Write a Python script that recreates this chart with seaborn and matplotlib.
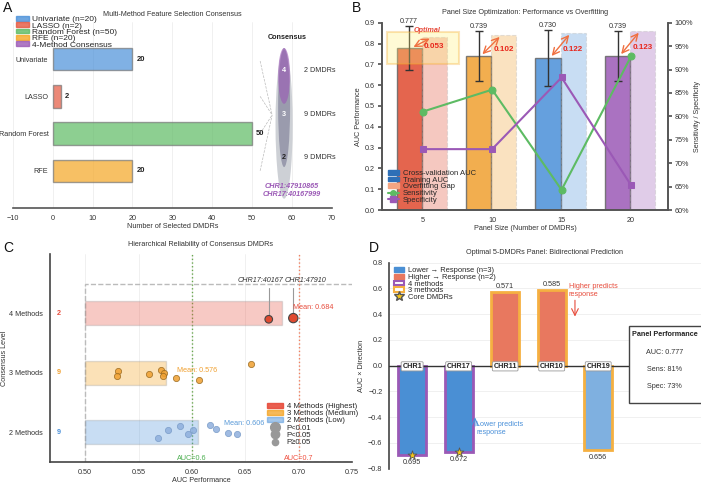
import numpy as np
import pandas as pd
import matplotlib
matplotlib.use("Agg")
import matplotlib.pyplot as plt
import seaborn as sns
from matplotlib.patches import Ellipse, Rectangle, Patch
from matplotlib.lines import Line2D
from matplotlib.ticker import PercentFormatter

sns.set_theme(style="whitegrid")
plt.rcParams['font.family'] = ['Liberation Sans', 'DejaVu Sans']
plt.rcParams['axes.unicode_minus'] = True
FS = 5.2

# ---------------- data ----------------
methods = ["Univariate", "LASSO", "Random Forest", "RFE"]
method_counts = [20, 2, 50, 20]
consensus_labels = ["4", "3", "2"]
consensus_counts = [2, 9, 9]
core_ids = ["CHR1:47910865", "CHR17:40167999"]

panel_sizes = [5, 10, 15, 20]
cv_auc = [0.777, 0.739, 0.730, 0.739]
cv_err = [0.106, 0.119, 0.133, 0.120]
train_auc = [0.830, 0.841, 0.852, 0.862]
gaps = [0.053, 0.102, 0.122, 0.123]
sensitivity = [81.0, 85.7, 64.3, 92.8]
specificity = [73.0, 73.0, 88.3, 65.3]

level_names = ["2 Methods", "3 Methods", "4 Methods"]
level_means = [0.606, 0.576, 0.684]
level_counts = [9, 9, 2]
auc_2m = [0.568, 0.578, 0.589, 0.601, 0.596, 0.617, 0.623, 0.634, 0.642]
jit_2m = [-0.10, 0.04, 0.10, 0.04, -0.04, 0.12, 0.05, -0.01, -0.03]
auc_3m = [0.531, 0.530, 0.560, 0.571, 0.574, 0.573, 0.585, 0.607, 0.655]
jit_3m = [0.03, -0.06, -0.02, 0.04, 0.00, -0.06, -0.09, -0.12, 0.14]
auc_4m = [0.672, 0.695]
jit_4m = [-0.10, -0.08]
names_4m = ["CHR17:40167", "CHR1:47910"]

dmdr_labels = ["CHR1", "CHR17", "CHR11", "CHR10", "CHR19"]
dmdr_auc = [0.695, 0.672, 0.571, 0.585, 0.656]
dmdr_dir = [-1, -1, 1, 1, -1]
dmdr_methods = [4, 4, 3, 3, 3]
panel_auc, panel_sens, panel_spec = 0.777, 81, 73

BLUE = "#4A90D9"; RED = "#E5573F"; GREEN = "#5DBB63"; ORANGE = "#F5A623"; PURPLE = "#9B59B6"

fig = plt.figure(figsize=(7.01, 4.83), dpi=100)
axA = fig.add_axes([0.0181, 0.5694, 0.4555, 0.3851])
axB = fig.add_axes([0.5449, 0.5652, 0.408, 0.3878])
axC = fig.add_axes([0.0713, 0.0441, 0.4308, 0.43])
axD = fig.add_axes([0.5554, 0.0296, 0.444, 0.4265])

def style_spines(ax, show, color="#444444", lw=1.0):
    for s in ["left", "right", "top", "bottom"]:
        ax.spines[s].set_visible(s in show)
        ax.spines[s].set_color(color)
        ax.spines[s].set_linewidth(lw)

# ---------------- Panel A ----------------
dfA = pd.DataFrame({"method": methods, "count": method_counts})
sns.barplot(data=dfA, x="count", y="method", hue="method", palette=[BLUE, RED, GREEN, ORANGE],
            width=0.6, saturation=1, alpha=0.7, edgecolor="#777777", linewidth=1, legend=False, ax=axA)
axA.set_xlim(-10, 70)
axA.set_ylim(4.0, -1.0)
for i, v in enumerate(method_counts):
    axA.text(v + 1, i, str(v), va="center", ha="left", fontsize=FS + 0.3, fontweight="bold", color="#222")
axA.set_xticks(range(-10, 71, 10))
axA.grid(axis="x", color="#eeeeee", lw=0.6)
axA.grid(axis="y", visible=False)
style_spines(axA, ["bottom"], "#555555", 1.2)
axA.spines["left"].set_position(("data", 0))
axA.tick_params(axis="both", labelsize=FS, colors="#333", length=0, pad=3)
axA.tick_params(axis="x", length=3, color="#555", pad=2)
axA.set_xlabel("Number of Selected DMDRs", fontsize=FS, color="#333", labelpad=1)
axA.set_ylabel("")
axA.set_title("Multi-Method Feature Selection Consensus", fontsize=FS, color="#333", pad=4)
# consensus ellipses
axA.add_patch(Ellipse((58, 1.75), 4.3, 4.0, color="#c8cbd1", alpha=0.9, lw=0, zorder=1))
axA.add_patch(Ellipse((58, 1.3), 3.0, 3.2, color="#5c5c7e", alpha=0.45, lw=0, zorder=2))
axA.add_patch(Ellipse((58, 0.45), 3.0, 1.5, color=PURPLE, alpha=0.6, lw=0, zorder=3))
cy = [0.3, 1.48, 2.65]
for lab, y, c, n in zip(consensus_labels, cy, ["white", "white", "#222"], consensus_counts):
    axA.text(58, y, lab, ha="center", va="center", fontsize=FS, fontweight="bold", color=c, zorder=5)
    axA.text(63, y, f"{n} DMDRs", ha="left", va="center", fontsize=FS, color="#333", zorder=5)
axA.text(58.8, -0.57, "Consensus", ha="center", va="center", fontsize=FS, fontweight="bold", color="#222")
for i in range(4):
    axA.plot([52, 55], [i + 0.05 if i == 0 else i, 1.5], ls="--", color="#bbbbbb", lw=0.5, zorder=0)
axA.text(60, 3.41, core_ids[0], ha="center", va="center", fontsize=FS, fontstyle="italic",
         fontweight="bold", color=PURPLE)
axA.text(60, 3.65, core_ids[1], ha="center", va="center", fontsize=FS, fontstyle="italic",
         fontweight="bold", color=PURPLE)
hA = [Patch(color=c, alpha=0.8, label=f"{m} (n={n})") for m, n, c in
      zip(methods, method_counts, [BLUE, RED, GREEN, ORANGE])]
hA.append(Patch(color=PURPLE, alpha=0.8, label="4-Method Consensus"))
axA.legend(handles=hA, loc="upper left", bbox_to_anchor=(0.0, 1.05), frameon=False, fontsize=6.0,
           borderaxespad=0, labelspacing=-0.12, handlelength=1.6, handleheight=0.5, handletextpad=0.35)

# ---------------- Panel B ----------------
xs = np.array(panel_sizes, float)
w = 1.82
colB = ["#E04A2F", "#F0A030", BLUE, PURPLE]
axB.bar(xs - 0.97, cv_auc, width=w, color=colB, alpha=0.85, edgecolor="#666666", lw=1,
        yerr=cv_err, capsize=3, error_kw=dict(ecolor="#333", elinewidth=1, capthick=1), zorder=2)
axB.bar(xs + 0.84, train_auc, width=w, color=colB, alpha=0.3, edgecolor="#aaaaaa", lw=0.8,
        ls="--", zorder=2)
axB.add_patch(Rectangle((2.4, 0.70), 5.2, 0.157, fc="#fff176", alpha=0.3, ec="#f5a623",
                        lw=1.5, zorder=3))
axB.text(5.3, 0.864, "Optimal", ha="center", va="center", fontsize=FS, fontstyle="italic",
         fontweight="bold", color="#e74c3c", zorder=4)
for x, c, t, g, e in zip(xs, cv_auc, train_auc, gaps, cv_err):
    axB.annotate("", xy=(x + 0.68, t), xytext=(x - 0.84, c),
                 arrowprops=dict(arrowstyle="<->", color="#f07040", lw=1.0), zorder=4)
    axB.text(x + 0.1, (c + t) / 2 - 0.02, f"{g:.3f}", ha="left", va="center", fontsize=FS + 0.6,
             fontweight="bold", color="#e8261c", zorder=5)
    axB.text(x - 0.97, c + e + 0.008, f"{c:.3f}", ha="center", va="bottom", fontsize=FS,
             color="#333", zorder=5)
axB.set_xlim(2.07, 22.66)
axB.set_ylim(0, 0.9)
axB.set_yticks(np.arange(0, 0.91, 0.1))
axB.set_xticks(panel_sizes)
axB.grid(False)
axB.set_ylabel("AUC Performance", fontsize=FS, color="#333", labelpad=2)
axB.set_xlabel("Panel Size (Number of DMDRs)", fontsize=FS, color="#333", labelpad=1)
axB.set_title("Panel Size Optimization: Performance vs Overfitting", fontsize=FS, color="#333", pad=6)
axB.tick_params(axis="both", labelsize=FS, colors="#333", length=3, color="#555", pad=2)
style_spines(axB, ["left", "bottom", "right"], "#555555", 1.2)
axB2 = axB.twinx()
sns.lineplot(x=panel_sizes, y=sensitivity, color=GREEN, marker="o", markersize=5, lw=1.5,
             markeredgecolor=GREEN, ax=axB2, zorder=6)
sns.lineplot(x=panel_sizes, y=specificity, color=PURPLE, marker="s", markersize=5, lw=1.5,
             markeredgecolor=PURPLE, ax=axB2, zorder=6)
axB2.set_ylim(60, 100)
axB2.set_yticks(range(60, 101, 5))
axB2.yaxis.set_major_formatter(PercentFormatter(decimals=0))
axB2.grid(False)
axB2.set_ylabel("Sensitivity / Specificity", fontsize=FS, color="#333", labelpad=1)
axB2.tick_params(axis="y", labelsize=FS, colors="#333", length=3, color="#555", pad=1.5)
style_spines(axB2, ["left", "bottom", "right"], "#555555", 1.2)
hB = [Patch(color="#2e6fb7", label="Cross-validation AUC"),
      Patch(color="#2e6fb7", label="Training AUC"),
      Patch(color="#f4a582", label="Overfitting Gap"),
      Line2D([], [], color=GREEN, marker="o", ms=4, lw=1.5, label="Sensitivity"),
      Line2D([], [], color=PURPLE, marker="s", ms=4, lw=1.5, label="Specificity")]
axB2.legend(handles=hB, loc="lower left", bbox_to_anchor=(0.0, 0.0), frameon=False, fontsize=5.5,
            borderaxespad=0.4, labelspacing=-0.05, handlelength=1.4, handleheight=0.6, handletextpad=0.5)

# ---------------- Panel C ----------------
colC = [BLUE, "#F39C12", "#E74C3C"]
for lvl, (m, c) in enumerate(zip(level_means, colC)):
    axC.barh(lvl, m - 0.5, left=0.5, height=0.4, color=c, alpha=0.3, edgecolor="#999999", lw=1, zorder=2)
axC.add_patch(Rectangle((0.5, -0.5), 0.27, 3.0, fill=False, ls="--", ec="#bbbbbb", lw=1, zorder=1))
axC.axvline(0.6, color="#6aa84f", ls=":", lw=1, zorder=1)
axC.axvline(0.7, color="#f08060", ls=":", lw=1, zorder=1)
sns.scatterplot(x=auc_2m, y=np.array(jit_2m) + 0, color="#8fb0dd", s=20, edgecolor="#7a9cc8",
                linewidth=0.6, alpha=0.85, ax=axC, zorder=4)
sns.scatterplot(x=auc_3m, y=np.array(jit_3m) + 1, color="#f0a030", s=20, edgecolor="#9a6a20",
                linewidth=0.6, alpha=0.85, ax=axC, zorder=4)
axC.scatter(auc_4m, np.array(jit_4m) + 2, color="#e04a30", s=[30, 45], edgecolor="#444",
            linewidth=0.8, zorder=5)
for x, y, nm, tx in zip(auc_4m, jit_4m, names_4m, [0.664, 0.706]):
    axC.plot([x, x], [2 + y + 0.08, 2.43], color="#999", lw=0.8, zorder=3)
    axC.text(tx, 2.55, nm, ha="center", va="center", fontsize=FS, fontstyle="italic", color="#333")
mean_pos = [(0.630, 0.15), (0.586, 1.03), (0.695, 2.1)]
for (tx, ty), m, c in zip(mean_pos, level_means, ["#5a9ad8", "#f0a030", "#e74c3c"]):
    axC.text(tx, ty, f"Mean: {m:.3f}", ha="left", va="center", fontsize=FS, color=c)
for lvl, (n, c) in enumerate(zip(level_counts, ["#4a90d9", "#f0a030", "#e74c3c"])):
    axC.text(0.4755, lvl, str(n), ha="center", va="center", fontsize=FS, fontweight="bold", color=c)
axC.text(0.6, -0.45, "AUC=0.6", ha="center", va="center", fontsize=FS, color="#4caf50")
axC.text(0.7, -0.45, "AUC=0.7", ha="center", va="center", fontsize=FS, color="#f05040")
axC.set_xlim(0.467, 0.75)
axC.set_ylim(-0.5, 3.0)
axC.set_yticks([0, 1, 2])
axC.set_yticklabels(level_names)
axC.set_xticks([0.50, 0.55, 0.60, 0.65, 0.70, 0.75])
axC.set_xticklabels(["0.50", "0.55", "0.60", "0.65", "0.70", "0.75"])
axC.grid(axis="x", color="#eeeeee", lw=0.6)
axC.grid(axis="y", visible=False)
style_spines(axC, ["left", "bottom"], "#444444", 1.2)
axC.tick_params(axis="both", labelsize=FS, colors="#333", length=3, color="#444", pad=2)
axC.set_xlabel("AUC Performance", fontsize=FS, color="#333", labelpad=1)
axC.set_ylabel("Consensus Level", fontsize=FS, color="#333", labelpad=1)
axC.set_title("Hierarchical Reliability of Consensus DMDRs", fontsize=FS, color="#333", pad=6)
hC = [Patch(color="#E74C3C", alpha=0.9, label="4 Methods (Highest)"),
      Patch(color="#F39C12", alpha=0.7, label="3 Methods (Medium)"),
      Patch(color=BLUE, alpha=0.5, label="2 Methods (Low)"),
      Line2D([], [], ls="", marker="o", ms=7, color="#999", label="P<0.01"),
      Line2D([], [], ls="", marker="o", ms=6, color="#999", label="P<0.05"),
      Line2D([], [], ls="", marker="o", ms=4.5, color="#999", label="P\u22650.05")]
axC.legend(handles=hC, loc="lower right", bbox_to_anchor=(1.03, 0.06), frameon=False, fontsize=5.6,
           borderaxespad=0, labelspacing=0.0, handlelength=2.0, handleheight=0.6, handletextpad=0.5)

# ---------------- Panel D ----------------
signed = [a * d for a, d in zip(dmdr_auc, dmdr_dir)]
dfD = pd.DataFrame({"dmdr": dmdr_labels, "val": signed})
fills = ["#4a8fd4", "#4a8fd4", "#e8785f", "#e8785f", "#7fb0e0"]
sns.barplot(data=dfD, x="dmdr", y="val", hue="dmdr", palette=fills, width=0.6, saturation=1,
            legend=False, ax=axD, zorder=2)
edge_map = {4: PURPLE, 3: "#F5B041"}
for p, m in zip(axD.patches, dmdr_methods):
    p.set_edgecolor(edge_map[m]); p.set_linewidth(2)
axD.axhline(0, color="#333", lw=1, zorder=3)
for i, (lab, v) in enumerate(zip(dmdr_labels, signed)):
    axD.text(i, -0.005, lab, ha="center", va="center", fontsize=FS, fontweight="bold", color="#222",
             bbox=dict(boxstyle="round,pad=0.15", fc="white", ec="#999", lw=0.6), zorder=6)
    if v < 0:
        axD.text(i, v - 0.03, f"{abs(v):.3f}", ha="center", va="top", fontsize=FS, color="#333")
    else:
        axD.text(i, v + 0.02, f"{abs(v):.3f}", ha="center", va="bottom", fontsize=FS, color="#333")
core_x = [i for i, m in enumerate(dmdr_methods) if m == 4]
axD.scatter(core_x, [signed[i] for i in core_x], marker="*", s=45, color="#f5c518",
            edgecolor="#555", linewidth=0.6, zorder=6)
axD.text(3.37, 0.64, "Higher predicts\nresponse", ha="left", va="top", fontsize=FS, color="#e74c3c")
axD.annotate("", xy=(3.5, 0.36), xytext=(3.5, 0.53),
             arrowprops=dict(arrowstyle="->", color="#e74c3c", lw=0.8))
axD.text(1.38, -0.43, "Lower predicts\nresponse", ha="left", va="top", fontsize=FS, color="#4a90d9")
axD.annotate("", xy=(1.35, -0.38), xytext=(1.35, -0.49),
             arrowprops=dict(arrowstyle="->", color="#4a90d9", lw=0.8))
axD.add_patch(Rectangle((0.77, 0.32), 0.235, 0.375, transform=axD.transAxes, fc="white",
                        ec="#444", lw=1, zorder=7, clip_on=False))
axD.text(0.885, 0.65, "Panel Performance", transform=axD.transAxes, ha="center", va="center",
         fontsize=FS, fontweight="bold", color="#222", zorder=8)
for yy, t in zip([0.563, 0.482, 0.401], [f"AUC: {panel_auc:.3f}", f"Sens: {panel_sens}%",
                                         f"Spec: {panel_spec}%"]):
    axD.text(0.885, yy, t, transform=axD.transAxes, ha="center", va="center", fontsize=FS,
             color="#333", zorder=8)
axD.set_xlim(-0.49, 6.2)
axD.set_ylim(-0.8, 0.8)
axD.set_yticks(np.arange(-0.8, 0.81, 0.2))
axD.set_xticks([])
axD.set_xlabel("")
axD.grid(axis="y", color="#eeeeee", lw=0.6)
axD.grid(axis="x", visible=False)
style_spines(axD, ["left"], "#444444", 1.2)
axD.tick_params(axis="y", labelsize=FS, colors="#333", length=3, color="#444", pad=2)
axD.set_ylabel("AUC \u00d7 Direction", fontsize=FS, color="#333", labelpad=2)
axD.set_title("Optimal 5-DMDRs Panel: Bidirectional Prediction", fontsize=FS, color="#333", pad=6)
hD = [Patch(color="#4a8fd4", label="Lower \u2192 Response (n=3)"),
      Patch(color="#e8785f", label="Higher \u2192 Response (n=2)"),
      Patch(fc="white", ec=PURPLE, lw=1.5, label="4 methods"),
      Patch(fc="white", ec="#F5B041", lw=1.5, label="3 methods"),
      Line2D([], [], ls="", marker="*", ms=7, color="#f5c518", mec="#555", label="Core DMDRs")]
axD.legend(handles=hD, loc="upper left", bbox_to_anchor=(0.0, 1.0), frameon=False, fontsize=5.4,
           borderaxespad=0.2, labelspacing=-0.05, handlelength=1.4, handleheight=0.6, handletextpad=0.5)

# panel letters
for x, y, l in [(3, 8, "A"), (352, 8, "B"), (3, 248, "C"), (369, 248, "D")]:
    fig.text(x / 701, 1 - y / 483, l, fontsize=10, ha="left", va="center", color="#111")

fig.savefig("out.png", dpi=100)
